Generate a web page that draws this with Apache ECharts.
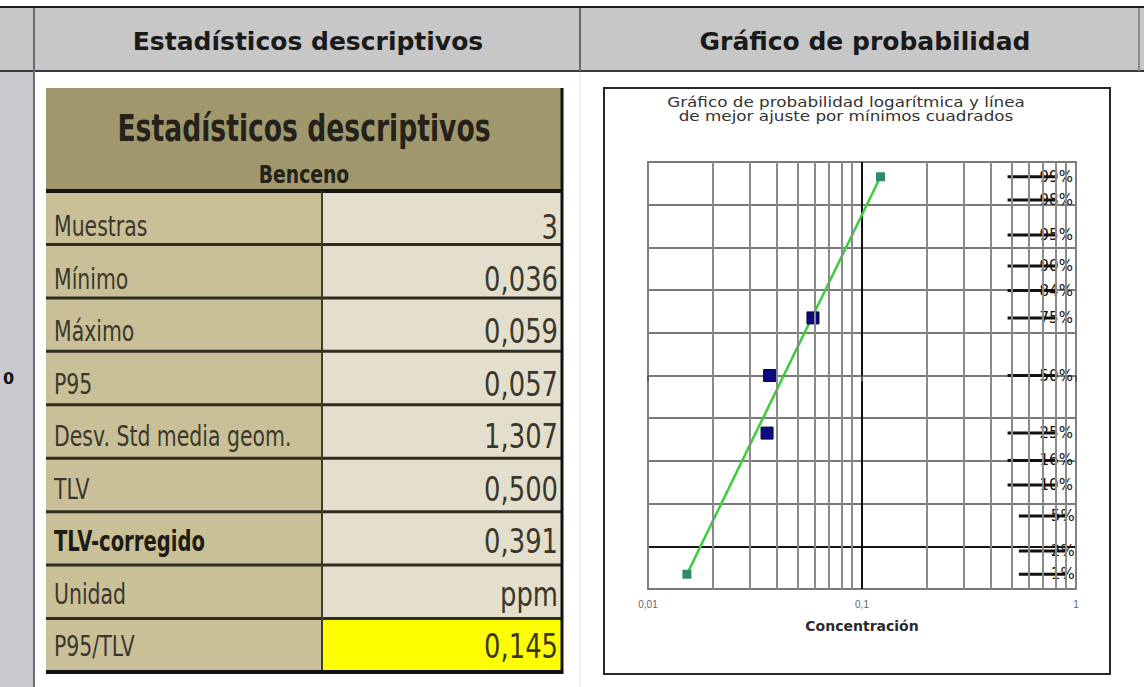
<!DOCTYPE html>
<html>
<head>
<meta charset="utf-8">
<title>Estadísticos descriptivos - Benceno</title>
<script src="https://cdn.jsdelivr.net/npm/echarts@6/dist/echarts.min.js"></script>
<style>
  html, body { margin: 0; padding: 0; background: #fff; }
  #main { width: 1144px; height: 687px; }
</style>
</head>
<body>
<div id="main"></div>
<script>
// tabla de estadísticos
var statLabels = ['Muestras', 'Mínimo', 'Máximo', 'P95', 'Desv. Std media geom.', 'TLV', 'TLV-corregido', 'Unidad', 'P95/TLV'];
var statValues = ['3', '0,036', '0,059', '0,057', '1,307', '0,500', '0,391', 'ppm', '0,145'];

// gráfico de probabilidad (concentración en ppm, probabilidad en %)
var sampleConc = [0.036, 0.037, 0.059];
var sampleProb = [25, 50, 75];
var fitConc = [0.0152, 0.122];
var fitProb = [1, 99];
var probTicks = [99, 98, 95, 90, 84, 75, 50, 25, 16, 10, 5, 2, 1];
var minorConc = [0.02, 0.03, 0.04, 0.05, 0.06, 0.07, 0.08, 0.09, 0.2, 0.3, 0.4, 0.5, 0.6, 0.7, 0.8, 0.9];

var SANS = '"DejaVu Sans", sans-serif';

// % -> valor z (escala de probabilidad normal)
function probit(p) {
    var q = p / 100;
    var r = q < 0.5 ? q : 1 - q;
    var t = Math.sqrt(-2 * Math.log(r));
    var z = t - (2.515517 + 0.802853 * t + 0.010328 * t * t) /
        (1 + 1.432788 * t + 0.189269 * t * t + 0.001308 * t * t * t);
    return q < 0.5 ? -z : z;
}

function line(x1, y1, x2, y2, color, w) {
    return { type: 'line', silent: true, shape: { x1: x1, y1: y1, x2: x2, y2: y2 }, style: { stroke: color, lineWidth: w } };
}
function rect(x, y, w, h, fill) {
    return { type: 'rect', silent: true, shape: { x: x, y: y, width: w, height: h }, style: { fill: fill } };
}
// sx < 1 estrecha el texto (la hoja original usa una fuente condensada)
function text(x, y, str, font, align, vAlign, fill, sx) {
    return {
        type: 'text', silent: true, x: x, y: y, scaleX: sx || 1,
        style: { text: str, font: font, fill: fill || '#2e2c22', align: align, verticalAlign: vAlign }
    };
}

function buildGraphic() {
    var g = [];
    // cabecera tipo hoja de cálculo
    g.push(rect(0, 8, 1144, 63, '#c7c7c7'));
    g.push(rect(0, 72, 33, 615, '#c9cad0'));
    g.push(line(0, 7, 1144, 7, '#1c1c1c', 2));
    g.push(line(0, 71, 1144, 71, '#3a3a3a', 2));
    g.push(line(34, 8, 34, 687, '#6a6a72', 2));
    g.push(line(580, 8, 580, 71, '#6a6a6a', 2));
    g.push(line(580, 72, 580, 687, '#e4e4e4', 1));
    g.push(line(1139, 8, 1139, 71, '#8a8a8a', 2));
    g.push(text(308, 41, 'Estadísticos descriptivos', 'bold 25px ' + SANS, 'center', 'middle', '#1a1a1a'));
    g.push(text(865, 41, 'Gráfico de probabilidad', 'bold 25px ' + SANS, 'center', 'middle', '#1a1a1a'));
    g.push(text(3, 378, '0', 'bold 16px ' + SANS, 'left', 'middle', '#111'));

    // tabla
    var L = 46, R = 562, T = 88, HB = 191, B = 672, S = 322;
    var rowH = (B - HB) / statLabels.length;
    g.push(rect(L, T, R - L, HB - T, '#a0986c'));
    g.push(text((L + R) / 2, 128, 'Estadísticos descriptivos', 'bold 37px ' + SANS, 'center', 'middle', '#24221a', 0.72));
    g.push(text((L + R) / 2, 174, 'Benceno', 'bold 25px ' + SANS, 'center', 'middle', '#24221a', 0.75));
    statLabels.forEach(function (lab, i) {
        var y0 = HB + i * rowH;
        var yc = y0 + rowH / 2 + 9 - i;
        var last = i === statLabels.length - 1;
        var strong = lab === 'TLV-corregido';
        g.push(rect(L, y0, S - L, rowH, '#c9c098'));
        g.push(rect(S, y0, R - S, rowH, last ? '#ffff00' : '#e4dfcc'));
        g.push(text(L + 8, yc, lab, (strong ? 'bold ' : '') + '28px ' + SANS, 'left', 'middle', strong ? '#1e1c14' : '#3a382c', strong ? 0.7 : 0.73));
        g.push(text(R - 4, yc, statValues[i], '34px ' + SANS, 'right', 'middle', '#3a382c', 0.76));
        if (i > 0) g.push(line(L, y0, R, y0, '#2e2d22', 3));
    });
    g.push(line(L, HB, R, HB, '#141410', 4));
    g.push(line(S, HB, S, B, '#3c3b30', 2));
    g.push(line(R, T, R, B + 2, '#111', 3));
    g.push(line(L, B, R + 1, B, '#111', 4));

    // marco del gráfico
    g.push({ type: 'rect', silent: true, shape: { x: 604, y: 88, width: 506, height: 586 }, style: { fill: null, stroke: '#262626', lineWidth: 2 } });
    g.push(text(846, 102, 'Gráfico de probabilidad logarítmica y línea', '14px ' + SANS, 'center', 'middle', '#333', 1.2));
    g.push(text(846, 116, 'de mejor ajuste por mínimos cuadrados', '14px ' + SANS, 'center', 'middle', '#333', 1.2));
    return g;
}

var ySplitColors = [];
for (var k = 0; k <= 10; k++) ySplitColors.push(k === 1 ? '#141414' : '#7a7a7a');

var chart = echarts.init(document.getElementById('main'), null, { renderer: 'svg' });
chart.setOption({
    backgroundColor: '#ffffff',
    animation: false,
    graphic: buildGraphic(),
    grid: {
        left: 648, top: 162, width: 428, height: 427,
        show: true, borderColor: '#808080', borderWidth: 2
    },
    xAxis: {
        type: 'log', logBase: 10, min: 0.01, max: 1,
        name: 'Concentración', nameLocation: 'middle', nameGap: 30,
        nameTextStyle: { fontSize: 14, fontFamily: SANS, fontWeight: 'bold', color: '#2a2a2a' },
        axisLine: { show: false },
        axisTick: { show: true, length: 6, lineStyle: { color: '#555', width: 2 } },
        axisLabel: {
            fontSize: 10, color: '#666', margin: 10, fontFamily: '"Liberation Sans", Arial, sans-serif',
            formatter: function (v) { return String(Number(v.toPrecision(6))).replace('.', ','); }
        },
        splitLine: { show: true, lineStyle: { color: ['#808080', '#111111', '#808080'], width: 2 } }
    },
    yAxis: {
        type: 'value', min: -2.5, max: 2.5, interval: 0.5,
        axisLine: { show: false }, axisTick: { show: false }, axisLabel: { show: false },
        splitLine: { show: true, lineStyle: { color: ySplitColors, width: 2 } }
    },
    series: [
        {
            // escala de probabilidad a la derecha
            name: 'escala',
            type: 'scatter',
            z: 2,
            silent: true,
            symbol: 'rect',
            symbolSize: [48, 3],
            itemStyle: { color: '#111', opacity: 1 },
            label: {
                show: true, position: 'right', distance: -16,
                fontSize: 15, color: '#111', fontFamily: SANS,
                formatter: function (p) { return p.data[2]; }
            },
            data: probTicks.map(function (p) { return [p <= 5 ? 0.7 : 0.62, probit(p), p + '%']; }),
            markLine: {
                silent: true, symbol: 'none', label: { show: false },
                lineStyle: { color: '#8a8a8a', width: 2, type: 'solid', opacity: 1 },
                data: minorConc.map(function (c) { return { xAxis: c }; })
            }
        },
        {
            name: 'Ajuste',
            type: 'line',
            z: 3,
            symbol: 'rect',
            symbolSize: 9,
            itemStyle: { color: '#2d8c6c', opacity: 1 },
            lineStyle: { color: '#3ccc3c', width: 2.5 },
            data: fitConc.map(function (c, i) { return [c, probit(fitProb[i])]; })
        },
        {
            name: 'Muestras',
            type: 'scatter',
            z: 4,
            symbol: 'rect',
            symbolSize: 12,
            itemStyle: { color: '#0c0c80', borderColor: '#06063a', borderWidth: 1, opacity: 1 },
            data: sampleConc.map(function (c, i) { return [c, probit(sampleProb[i])]; })
        }
    ]
});
</script>
</body>
</html>
